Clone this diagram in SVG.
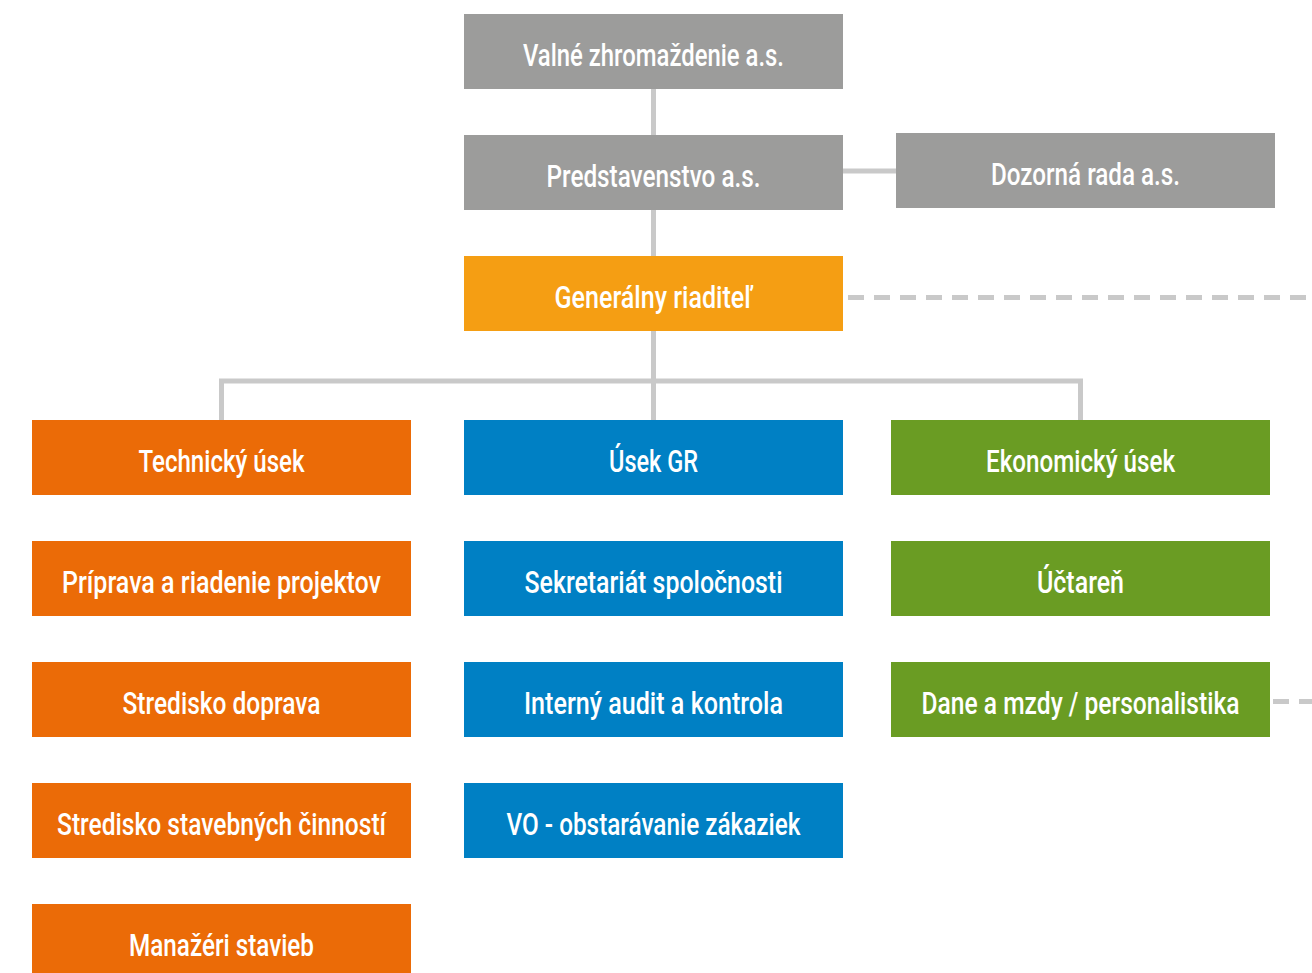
<svg xmlns="http://www.w3.org/2000/svg" width="1312" height="973" viewBox="0 0 1312 973">
<style>
.box{stroke:none}
.gray{fill:#9c9c9b}
.gen{fill:#f59e13}
.org{fill:#eb6b07}
.blu{fill:#0080c4}
.grn{fill:#6a9c23}
.lbl{font-family:Roboto,"Liberation Sans",sans-serif;font-size:31px;font-weight:500;fill:#ffffff;text-anchor:middle}
.con{stroke:#c9c9c9;stroke-width:5;fill:none}
.dash{stroke:#c9c9c9;stroke-width:5;fill:none;stroke-dasharray:16 10}
</style>
<g id="connectors">
<path class="con" d="M653.5 89V135M653.5 210V256M653.5 331V420M843 171H896M221.5 420V381H1080.5V420"/>
<path class="dash" d="M848 297.5H1312"/>
<path class="dash" d="M1273 701.5H1312"/>
</g>
<g id="valne"><rect class="box gray" x="464" y="14" width="379" height="75"/><text class="lbl" x="653.5" y="66" textLength="261" lengthAdjust="spacingAndGlyphs">Valné zhromaždenie a.s.</text></g>
<g id="predstavenstvo"><rect class="box gray" x="464" y="135" width="379" height="75"/><text class="lbl" x="653.5" y="187" textLength="214" lengthAdjust="spacingAndGlyphs">Predstavenstvo a.s.</text></g>
<g id="dozorna"><rect class="box gray" x="896" y="133" width="379" height="75"/><text class="lbl" x="1085.5" y="185" textLength="189" lengthAdjust="spacingAndGlyphs">Dozorná rada a.s.</text></g>
<g id="generalny"><rect class="box gen" x="464" y="256" width="379" height="75"/><text class="lbl" x="653.5" y="308" textLength="198" lengthAdjust="spacingAndGlyphs">Generálny riaditeľ</text></g>
<g id="technicky"><rect class="box org" x="32" y="420" width="379" height="75"/><text class="lbl" x="221.5" y="472" textLength="166" lengthAdjust="spacingAndGlyphs">Technický úsek</text></g>
<g id="usekgr"><rect class="box blu" x="464" y="420" width="379" height="75"/><text class="lbl" x="653.5" y="472" textLength="89" lengthAdjust="spacingAndGlyphs">Úsek GR</text></g>
<g id="ekonomicky"><rect class="box grn" x="891" y="420" width="379" height="75"/><text class="lbl" x="1080.5" y="472" textLength="189" lengthAdjust="spacingAndGlyphs">Ekonomický úsek</text></g>
<g id="priprava"><rect class="box org" x="32" y="541" width="379" height="75"/><text class="lbl" x="221.5" y="593" textLength="319" lengthAdjust="spacingAndGlyphs">Príprava a riadenie projektov</text></g>
<g id="sekretariat"><rect class="box blu" x="464" y="541" width="379" height="75"/><text class="lbl" x="653.5" y="593" textLength="258" lengthAdjust="spacingAndGlyphs">Sekretariát spoločnosti</text></g>
<g id="uctaren"><rect class="box grn" x="891" y="541" width="379" height="75"/><text class="lbl" x="1080.5" y="593" textLength="87" lengthAdjust="spacingAndGlyphs">Účtareň</text></g>
<g id="doprava"><rect class="box org" x="32" y="662" width="379" height="75"/><text class="lbl" x="221.5" y="714" textLength="198" lengthAdjust="spacingAndGlyphs">Stredisko doprava</text></g>
<g id="audit"><rect class="box blu" x="464" y="662" width="379" height="75"/><text class="lbl" x="653.5" y="714" textLength="259" lengthAdjust="spacingAndGlyphs">Interný audit a kontrola</text></g>
<g id="dane"><rect class="box grn" x="891" y="662" width="379" height="75"/><text class="lbl" x="1080.5" y="714" textLength="318" lengthAdjust="spacingAndGlyphs">Dane a mzdy / personalistika</text></g>
<g id="stavebne"><rect class="box org" x="32" y="783" width="379" height="75"/><text class="lbl" x="221.5" y="835" textLength="329" lengthAdjust="spacingAndGlyphs">Stredisko stavebných činností</text></g>
<g id="vo"><rect class="box blu" x="464" y="783" width="379" height="75"/><text class="lbl" x="653.5" y="835" textLength="294" lengthAdjust="spacingAndGlyphs">VO - obstarávanie zákaziek</text></g>
<g id="manazeri"><rect class="box org" x="32" y="904" width="379" height="75"/><text class="lbl" x="221.5" y="956" textLength="185" lengthAdjust="spacingAndGlyphs">Manažéri stavieb</text></g>
</svg>
